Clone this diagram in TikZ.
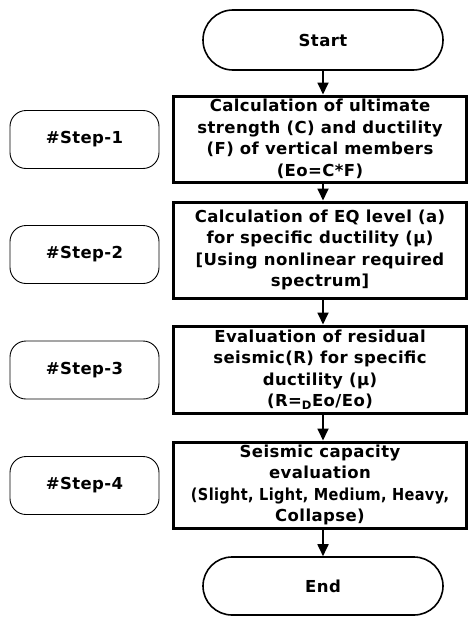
\documentclass[tikz,border=0pt]{standalone}
\usepackage{fontspec}
\usepackage{graphicx}
\setmainfont{DejaVu Sans}[LetterSpace=2.5]
\usetikzlibrary{shapes.misc,arrows.meta}
\begin{document}
\begin{tikzpicture}[x=1pt,y=-1pt,
  txt/.style={font=\bfseries\fontsize{16.5}{21.5}\selectfont, align=center, inner sep=0pt},
  term/.style={txt, draw, rounded rectangle, line width=1.6pt, minimum width=240pt, minimum height=60pt},
  proc/.style={txt, draw, rectangle, line width=3pt, minimum width=293pt},
  stepbox/.style={txt, draw, rounded corners=16pt, line width=0.9pt, minimum width=149pt, minimum height=58pt},
  flow/.style={line width=1.8pt, -{Triangle[length=12pt,width=11pt]}}]
\useasboundingbox (0,0) rectangle (469,618);
\node[term] (start) at (323,40) {Start};
\node[proc, minimum height=86pt] (b1) at (320,139) {Calculation of ultimate\\strength (C) and ductility\\(F) of vertical members\\(Eo=C*F)};
\node[proc, minimum height=96pt] (b2) at (320,250) {Calculation of EQ level (a)\\for specific ductility (μ)\\{[}Using nonlinear required\\spectrum{]}};
\node[proc, minimum height=87pt] (b3) at (320,369.5) {Evaluation of residual\\seismic(R) for specific\\ductility (μ)\\(R=\textsubscript{D}Eo/Eo)};
\node[proc, minimum height=86pt] (b4) at (320,485) {Seismic capacity\\evaluation\\\scalebox{0.88}[1]{(Slight, Light, Medium, Heavy,}\\Collapse)};
\node[term, minimum height=58pt] (end) at (323,586) {End};
\node[stepbox] (s1) at (84.5,139.5) {\#Step-1};
\node[stepbox] (s2) at (84.5,254.5) {\#Step-2};
\node[stepbox] (s3) at (84.5,370) {\#Step-3};
\node[stepbox] (s4) at (84.5,485.5) {\#Step-4};
\draw[flow] (start.south) -- (start.south |- b1.north);
\draw[flow] (start.south |- b1.south) -- (start.south |- b2.north);
\draw[flow] (start.south |- b2.south) -- (start.south |- b3.north);
\draw[flow] (start.south |- b3.south) -- (start.south |- b4.north);
\draw[flow] (start.south |- b4.south) -- (end.north);
\end{tikzpicture}
\end{document}
